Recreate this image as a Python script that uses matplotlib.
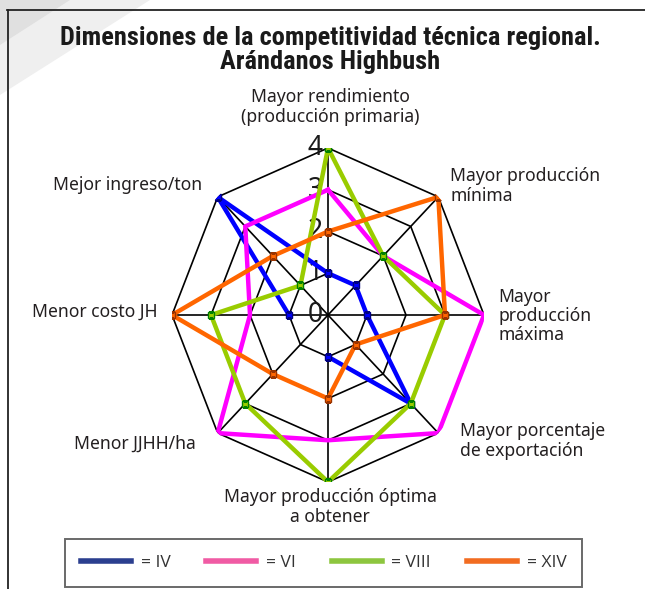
import numpy as np
import matplotlib.pyplot as plt
from matplotlib.lines import Line2D
from matplotlib.patches import Polygon
from matplotlib.font_manager import FontProperties

# --- data -------------------------------------------------------------
categories = ['Mayor rendimiento\n(producción primaria)',
              'Mayor producción\nmínima',
              'Mayor\nproducción\nmáxima',
              'Mayor porcentaje\nde exportación',
              'Mayor producción óptima\na obtener',
              'Menor JJHH/ha',
              'Menor costo JH',
              'Mejor ingreso/ton']
series_names = ['IV', 'VI', 'VIII', 'XIV']
iv = [1, 1, 1, 3, 1, np.nan, 1, 4]     # no value for JJHH/ha
vi = [3, 2, 4, 4, 3, 4, 2, 3]
viii = [4, 2, 3, 3, 4, 3, 3, 1]
xiv = [2, 4, 3, 1, 2, 2, 4, 2]
levels = [0, 1, 2, 3, 4]

line_colors = ['#0000ff', '#ff00ff', '#99cc00', '#ff6600']
marker_edges = ['#000080', '#ff00ff', '#008000', '#993300']
legend_colors = ['#2b3f8f', '#f05ba4', '#8dc63f', '#f26c21']

W, H = 645, 589
text_font = ['Noto Sans', 'DejaVu Sans']
legend_font = ['Open Sans', 'Noto Sans', 'DejaVu Sans']
title_font = ['Roboto Condensed', 'Barlow Condensed', 'Archivo Narrow',
              'PT Sans Narrow', 'Liberation Sans Narrow', 'DejaVu Sans']


def px(x, y):
    """pixel position (from top-left) -> figure fraction"""
    return x / W, 1 - y / H


fig = plt.figure(figsize=(W / 100, H / 100), dpi=100)

# page shading at top-left corner and frame
fig.patches.append(Polygon([px(0, 0), px(150, 0), px(0, 95)], closed=True,
                           transform=fig.transFigure, facecolor='#efefef',
                           edgecolor='none', zorder=0))
fig.patches.append(Polygon([px(0, 0), px(70, 0), px(0, 45)], closed=True,
                           transform=fig.transFigure, facecolor='#e0e0e0',
                           edgecolor='none', zorder=0))
fig.lines.append(Line2D([7 / W, 1], [1 - 10 / H] * 2, transform=fig.transFigure,
                        color='#222222', lw=1.3))
fig.lines.append(Line2D([8 / W] * 2, [0, 1 - 10 / H], transform=fig.transFigure,
                        color='#222222', lw=1.3))

# title
fig.text(*px(330, 38), 'Dimensiones de la competitividad técnica regional.',
         ha='center', va='center', fontsize=19, fontweight='bold',
         family=title_font, color='#1a1a1a')
fig.text(*px(330, 62), 'Arándanos Highbush', ha='center', va='center',
         fontsize=19, fontweight='bold', family=title_font, color='#1a1a1a')

# --- radar -------------------------------------------------------------
cx, cy, rx, ry = 328, 315, 156, 167
ax = fig.add_axes([(cx - rx) / W, 1 - (cy + ry) / H, 2 * rx / W, 2 * ry / H],
                  projection='polar')
ax.set_aspect('auto')
ax.set_theta_offset(np.pi / 2)
ax.set_theta_direction(-1)
ax.set_ylim(0, levels[-1])
ax.grid(False)
ax.set_xticks([])
ax.set_yticks([])
ax.spines['polar'].set_visible(False)
ax.patch.set_visible(False)

n = len(categories)
angles = np.linspace(0, 2 * np.pi, n, endpoint=False)
closed = np.append(angles, angles[0])

for lev in levels[1:]:
    ax.plot(closed, [lev] * (n + 1), color='black', lw=1.2, zorder=1)
for a in angles:
    ax.plot([a, a], [0, levels[-1]], color='black', lw=1.2, zorder=1)

for lev in levels:
    ax.annotate(str(lev), xy=(0, lev), xytext=(-4, 0), textcoords='offset points',
                ha='right', va='center', fontsize=19, family=text_font,
                color='#1a1a1a', zorder=2)

for i, vals in enumerate([iv, vi, viii, xiv]):
    v = np.append(vals, vals[0])
    ax.plot(closed, v, color=line_colors[i], lw=3.2, zorder=3 + i,
            marker='s' if i != 1 else None, markersize=4,
            markerfacecolor=line_colors[i], markeredgecolor=marker_edges[i],
            markeredgewidth=1.0, solid_joinstyle='miter')

# category labels
label_pos = [(330, 107, 'center'), (450, 186, 'left'), (498, 316, 'left'),
             (460, 441, 'left'), (330, 507, 'center'), (196, 444, 'right'),
             (158, 312, 'right'), (202, 185, 'right')]
for text, (x, y, ha) in zip(categories, label_pos):
    fig.text(*px(x, y), text, ha=ha, va='center', fontsize=12.6,
             family=text_font, color='#231f20', linespacing=1.1,
             multialignment=ha)

# legend
handles = [Line2D([], [], color=c, lw=4) for c in legend_colors]
leg = fig.legend(handles, ['= ' + s for s in series_names], ncol=4,
                 loc='center', bbox_to_anchor=(65 / W, 1 - 585 / H, 517 / W, 44 / H),
                 mode='expand', frameon=True, fancybox=False, edgecolor='#444444',
                 handlelength=2.9, handletextpad=0.55, borderpad=0.9,
                 borderaxespad=0, prop=FontProperties(family=legend_font, size=12.5))
leg.get_frame().set_linewidth(1.4)
leg._legend_box.align = 'center'
for t in leg.get_texts():
    t.set_color('#333333')

fig.savefig('out.png', dpi=100)
